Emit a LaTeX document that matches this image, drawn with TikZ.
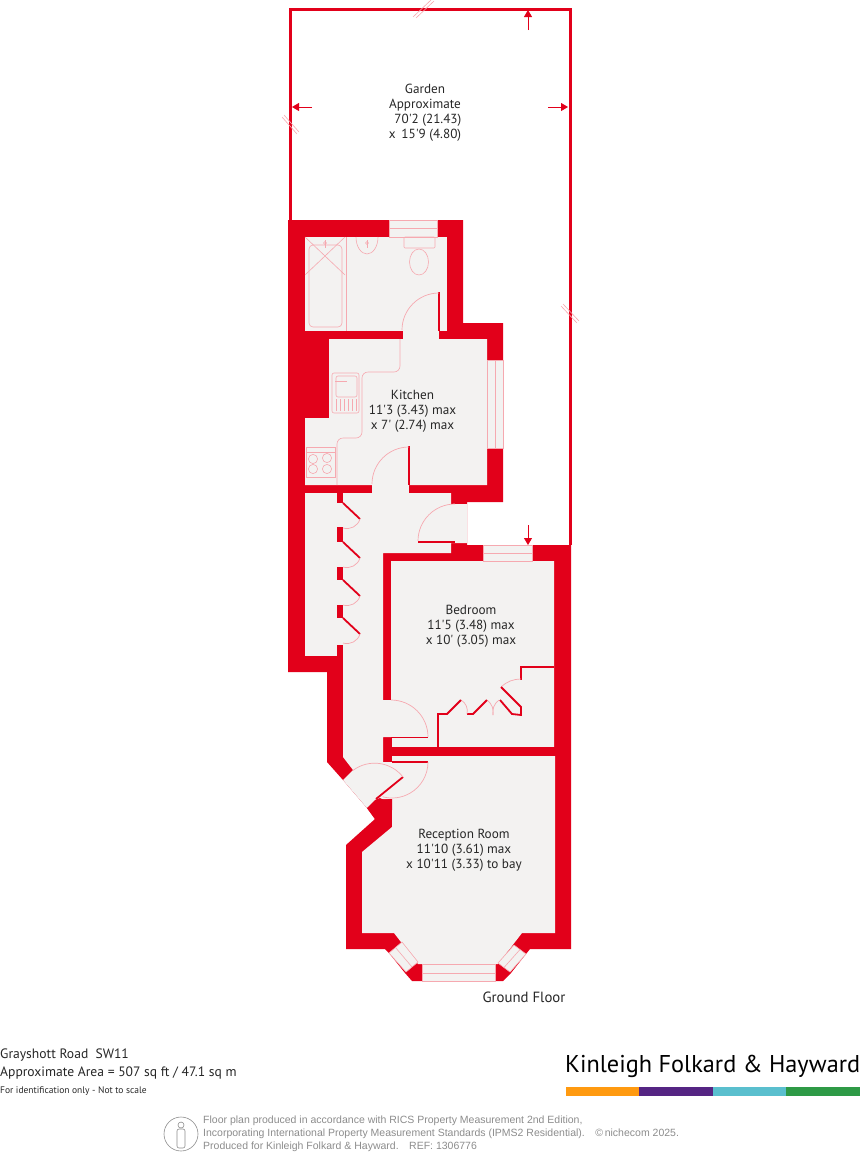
\documentclass[tikz,border=0pt]{standalone}
\usepackage{fontspec}
\usetikzlibrary{arrows.meta}
\newfontfamily\planfont{PT Sans}
\newfontfamily\notefont{Liberation Sans}
\definecolor{wallred}{HTML}{E2001A}
\definecolor{roomgrey}{HTML}{F3F2F1}
\definecolor{linepink}{HTML}{F6A9B0}
\definecolor{notegrey}{HTML}{8C8C8C}
\definecolor{barorange}{HTML}{FF9A10}
\definecolor{barpurple}{HTML}{552583}
\definecolor{barteal}{HTML}{5ABFCE}
\definecolor{bargreen}{HTML}{2E9A46}
\tikzset{
 wall/.style={fill=wallred},
 room/.style={fill=roomgrey},
 thinwall/.style={draw=wallred,line width=1.8pt},
 swing/.style={draw=linepink,line width=0.7pt},
 fixture/.style={draw=linepink,line width=0.6pt},
 glass/.style={fill=roomgrey,draw=linepink,line width=0.6pt},
 breakmark/.style={draw=linepink,line width=0.6pt},
 dimarrow/.style={draw=wallred,line width=0.9pt,-{Triangle[length=7pt,width=8pt]}},
 roomlabel/.style={font=\planfont\fontsize{13.2}{15}\selectfont,align=center,text=black!85,inner sep=0pt},
 footlabel/.style={font=\planfont,anchor=base west,text=black!85,inner sep=0pt},
 notelabel/.style={font=\notefont\fontsize{10.5}{12.8}\selectfont,align=left,text=notegrey,inner sep=0pt}
}
\begin{document}
\begin{tikzpicture}[x=1pt,y=-1pt]
 \useasboundingbox (0,0) rectangle (861,1154);
 % garden
 \draw[wallred,line width=3pt] (290,220)--(290,9)--(570,9)--(570,545);
 \draw[breakmark] (289,220)--(463,220);
 \draw[breakmark] (413,17)--(431,0); \draw[breakmark] (416,18)--(434,1);
 \draw[breakmark] (282,117)--(297,134); \draw[breakmark] (284,115)--(299,132);
 \draw[breakmark] (561,306)--(577,323); \draw[breakmark] (563,304)--(579,321);
 \draw[dimarrow] (528,30)--(528,10);
 \draw[dimarrow] (312,107)--(292,107);
 \draw[dimarrow] (548,107)--(568,107);
 \draw[dimarrow] (528,525)--(528,545);
 % outer shell
 \fill[wall] (288,220)--(463,220)--(463,323)--(503,323)--(503,502)--(467,502)--(467,545)--(571,545)
  --(571,949)--(530,949)--(526,954)--(511,973)--(503,981)--(412,981)--(405,973)--(389,953)--(385,949)
  --(346,949)--(346,845)--(375,819)--(367,808)--(343,780)--(327,762)--(327,672)--(288,672)--cycle;
 % rooms
 \fill[room] (305,237)--(447,237)--(447,331)--(305,331)--cycle;
 \fill[room] (403,330) rectangle (439,340);
 \fill[room] (329,339)--(487,339)--(487,485)--(305,485)--(305,418)--(329,418)--cycle;
 \fill[room] (372,484) rectangle (409,494);
 \fill[room] (305,493) rectangle (337,656);
 \fill[room] (343,493)--(451,493)--(451,504)--(467,504)--(467,543)--(451,543)--(451,553)--(383,553)
  --(383,700)--(392,700)--(392,737)--(383,737)--(383,762)--(392,762)--(392,799)--(380,799)--(375,803)
  --(367,808)--(343,780)--(353,770)--(343,757)--cycle;
 \foreach \top/\bot in {503/527,542/567,580/605,618/645} \fill[room] (336,\top) rectangle (344,\bot);
 \fill[room] (391,561)--(554,561)--(554,748)--(392,748)--(392,737)--(391,700)--cycle;
 \fill[room] (392,756)--(555,756)--(555,933)--(522,933)--(498,964)--(418,964)--(394,933)--(362,933)--(362,852)--(392,827)--cycle;
 % red bits over the rooms
 \fill[wall] (367,808)--(375,800)--(380,798)--(384,800)--(392,799)--(392,810)--(375,819)--cycle;
 \fill[wall] (441,331) rectangle (447,339);
 % windows
 \draw[glass] (389,220) rectangle (437,237); \draw[fixture] (389,228)--(437,228);
 \draw[glass] (487,360) rectangle (503,448); \draw[fixture] (495,360)--(495,448);
 \draw[glass] (483,545) rectangle (532,561); \draw[fixture] (483,553)--(532,553);
 \draw[glass] (422,964) rectangle (495,981); \draw[fixture] (422,973)--(495,973);
 \draw[glass] (389,953)--(402,942)--(418,962)--(406,972)--cycle; \draw[fixture] (395.5,947.5)--(412,967);
 \draw[glass] (514,945)--(526,954)--(510,972)--(498,963)--cycle; \draw[fixture] (520,949.5)--(504,967.5);
 % doors
 \draw[thinwall] (439,292)--(439,331);
 \draw[swing] (439,293) arc[start angle=-90,end angle=-180,radius=37];
 \draw[thinwall] (409,446)--(409,485);
 \draw[swing] (409,447) arc[start angle=-90,end angle=-180,radius=37];
 \draw[thinwall] (418,542)--(455,542);
 \draw[swing] (418,541) arc[start angle=180,end angle=270,radius=37];
 \draw[thinwall] (391,737.5)--(428,737.5);
 \draw[swing] (428,737) arc[start angle=0,end angle=-90,radius=37];
 \draw[thinwall] (392,762)--(428,762);
 \draw[swing] (428,762) arc[start angle=0,end angle=105,radius=36];
 \draw[thinwall] (403,777)--(376,799);
 \draw[swing] (403,777) arc[start angle=-38,end angle=-127,radius=36];
 \foreach \y in {503,542,580,618} {
  \draw[thinwall] (343,\y)--(360,\y+16);
  \draw[swing] (360,\y+16) to[bend left=45] (343,\y+25);
 }
 % wardrobe
 \fill[wall] (392,747) rectangle (555,756);
 \draw[thinwall] (554,667)--(521,667)--(521,680);
 \draw[swing] (521,679) to[bend right=20] (501,687);
 \draw[thinwall] (501,687)--(521,707)--(521,715)--(512,714)--(500,700);
 \draw[swing] (499,700) to[bend right=30] (493,715);
 \draw[swing] (487,700) to[bend left=30] (493,715);
 \draw[thinwall] (487,700)--(473,714)--(467,714);
 \draw[swing] (461,700) to[bend left=35] (467,714);
 \draw[thinwall] (461,700)--(447,714)--(438,714)--(438,748);
 % bathroom fittings
 \draw[fixture] (346,237)--(346,331);
 \draw[fixture,rounded corners=4pt] (309,245) rectangle (342,327);
 \draw[fixture] (305,237)--(345,275); \draw[fixture] (345,237)--(305,275);
 \draw[fixture] (325,240)--(325,248); \draw[fixture] (325,243) circle (1.5);
 \draw[fixture] (356,237) arc[start angle=180,end angle=0,x radius=11,y radius=17];
 \draw[fixture] (367,240)--(367,248); \draw[fixture] (367,243) circle (1.5);
 \draw[fixture,rounded corners=1pt] (404,237) rectangle (435,248);
 \draw[fixture] (419,262) ellipse (9.5 and 13);
 % kitchen fittings
 \draw[fixture,rounded corners=6pt] (400,339)--(400,372)--(362,372)--(362,438)--(337,438)--(337,485);
 \draw[fixture,rounded corners=2pt] (332,373) rectangle (359,413);
 \draw[fixture,rounded corners=2pt] (336,376) rectangle (357,397);
 \draw[fixture] (335,381)--(347,381);
 \foreach \x in {336,340,344,348,352,356} \draw[fixture] (\x,399)--(\x,411);
 \draw[fixture] (306,447) rectangle (335,477);
 \draw[fixture] (306,452)--(335,452);
 \foreach \x/\y in {313/459,327/458,313/469,327/469} \draw[fixture] (\x,\y) circle (4.6);
 % texts
 \node[roomlabel] (gardenlabel) at (425,113) {Garden\\Approximate\\\ \,70'2 (21.43)\\x\ \,15'9 (4.80)\hspace{3pt}};
 \node[roomlabel] (kitchenlabel) at (412.5,411) {Kitchen\\11'3 (3.43) max\\x 7' (2.74) max};
 \node[roomlabel] (bedroomlabel) at (471,626) {Bedroom\\11'5 (3.48) max\\x 10' (3.05) max};
 \node[roomlabel] (receptionlabel) at (464,850) {Reception Room\\11'10 (3.61) max\\x 10'11 (3.33) to bay};
 \node[roomlabel,font=\planfont\fontsize{14.8}{15}\selectfont] (floorlabel) at (524,997) {Ground Floor};
 \node[footlabel,font=\planfont\fontsize{13.6}{15}\selectfont] (addresslabel) at (0,1058) {Grayshott Road\ \ SW11};
 \node[footlabel,font=\planfont\fontsize{13.6}{15}\selectfont] (arealabel) at (0,1076) {Approximate Area = 507 sq ft / 47.1 sq m};
 \node[footlabel,font=\planfont\fontsize{9.5}{11}\selectfont] (scalelabel) at (0,1093) {For identification only - Not to scale};
 \node[footlabel,font=\planfont\fontsize{24.3}{26}\selectfont,text=black] (brandlabel) at (565,1072) {Kinleigh Folkard \& Hayward};
 \fill[barorange] (566,1087) rectangle (639,1096);
 \fill[barpurple] (639,1087) rectangle (713,1096);
 \fill[barteal] (713,1087) rectangle (786,1096);
 \fill[bargreen] (786,1087) rectangle (860,1096);
 % rics mark
 \draw[notegrey,line width=0.6pt] (181,1134) circle (17);
 \draw[notegrey,line width=0.6pt] (181,1125) circle (3);
 \draw[notegrey,line width=0.6pt,rounded corners=2pt] (177,1129) rectangle (185,1148);
 \node[notelabel,anchor=north west] (ricslabel) at (203,1116) {Floor plan produced in accordance with RICS Property Measurement 2nd Edition,\\Incorporating International Property Measurement Standards (IPMS2 Residential).\quad\textcopyright\,nichecom 2025.\\Produced for Kinleigh Folkard \& Hayward.\quad REF: 1306776};
\end{tikzpicture}
\end{document}
